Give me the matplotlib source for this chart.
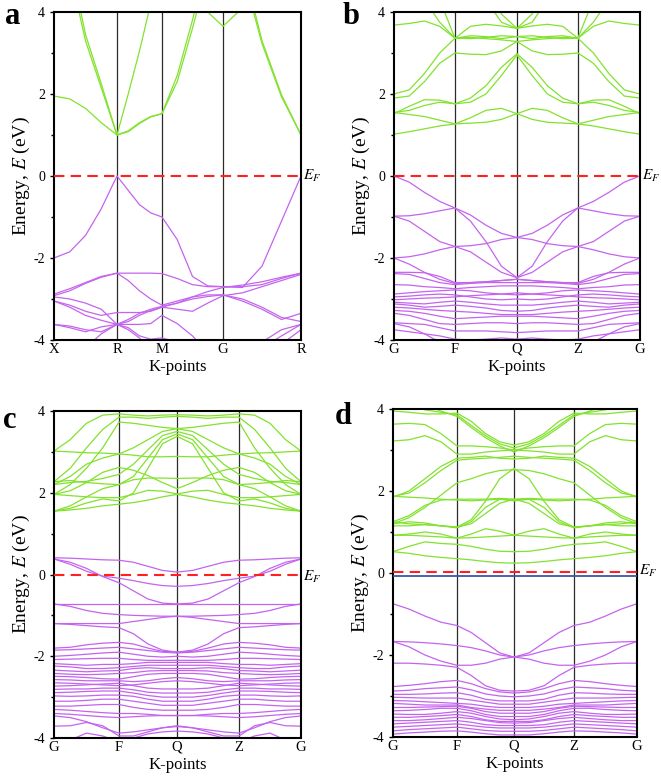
import numpy as np
import matplotlib.pyplot as plt
from matplotlib.ticker import MultipleLocator

plt.rcParams['font.family'] = ['Liberation Serif', 'DejaVu Serif']
plt.rcParams['mathtext.fontset'] = 'stix'

GREEN = '#82E22E'
PURPLE = '#C464EE'

# ---- panel a: path X-R-M-G-R, 3 samples inside each segment (17 values per band)
a_labels = ['X', 'R', 'M', 'G', 'R']
a_kpts = [0.0, 0.255, 0.437, 0.684, 1.0]
a_cond = [
    [1.95, 1.88, 1.65, 1.30, 1.00, 1.10, 1.30, 1.45, 1.52, 2.30, 3.60, 5.00, 6.0, 5.0, 3.23, 1.93, 1.00],
    [7.0, 5.0, 3.30, 2.15, 1.00, 2.00, 3.05, 4.20, 6.0, 6.5, 7.0, 7.0, 7.0, 5.2, 3.30, 1.98, 1.00],
    [7.0, 5.3, 3.45, 2.25, 1.00, 1.08, 1.28, 1.44, 1.52, 2.45, 3.80, 5.30, 7.0, 7.0, 7.0, 7.0, 7.0],
    [7.0, 7.0, 7.0, 7.0, 7.0, 7.0, 7.0, 7.0, 7.0, 6.5, 5.0, 4.00, 3.65, 4.10, 5.20, 6.5, 7.0],
]
a_val = [
    [-2.00, -1.85, -1.45, -0.80, 0.00, -0.35, -0.70, -0.90, -1.00, -1.55, -2.45, -2.68, -2.70, -2.72, -2.20, -1.10, 0.00],
    [-2.88, -2.75, -2.60, -2.45, -2.37, -2.37, -2.37, -2.37, -2.38, -2.50, -2.65, -2.70, -2.70, -2.70, -2.65, -2.50, -2.37],
    [-2.92, -2.80, -2.62, -2.47, -2.37, -2.55, -2.80, -3.00, -3.15, -3.05, -2.95, -2.90, -2.90, -3.05, -3.25, -3.50, -3.35],
    [-3.05, -3.15, -3.30, -3.40, -3.33, -3.33, -3.33, -3.30, -3.20, -3.10, -2.95, -2.82, -2.72, -2.66, -2.58, -2.47, -2.37],
    [-2.95, -3.00, -3.10, -3.25, -3.62, -3.55, -3.40, -3.28, -3.20, -3.25, -3.30, -3.10, -2.92, -2.85, -2.70, -2.55, -2.40],
    [-3.05, -3.20, -3.40, -3.52, -3.62, -3.50, -3.35, -3.25, -3.18, -3.10, -3.00, -2.94, -2.90, -3.00, -3.20, -3.45, -3.55],
    [-3.62, -3.66, -3.75, -3.80, -3.62, -3.62, -3.62, -3.60, -3.40, -3.60, -3.90, -4.30, -4.50, -4.50, -4.20, -3.90, -3.62],
    [-3.62, -3.70, -3.80, -3.68, -3.62, -3.75, -3.95, -4.30, -4.50, -4.50, -4.50, -4.50, -4.50, -4.40, -4.05, -3.75, -3.62],
    [-4.50, -4.40, -4.20, -3.85, -3.62, -3.70, -3.90, -3.98, -3.95, -4.05, -4.30, -4.50, -4.50, -4.50, -4.50, -4.10, -3.75],
]

# ---- panels b-d: path G-F-Q-Z-G, mirror-symmetric about Q
# values listed for G -> F -> Q (3 samples inside each segment, 9 values per band)
bcd_labels = ['G', 'F', 'Q', 'Z', 'G']

b_kpts = [0.0, 0.248, 0.5, 0.748, 1.0]
b_cond = [
    [1.02, 1.08, 1.15, 1.22, 1.27, 1.29, 1.31, 1.38, 1.52],
    [1.55, 1.50, 1.45, 1.36, 1.27, 1.42, 1.60, 1.65, 1.52],
    [1.52, 1.70, 1.86, 1.85, 1.76, 1.90, 2.20, 2.65, 2.98],
    [1.55, 1.60, 1.72, 1.80, 1.76, 1.80, 2.00, 2.45, 2.95],
    [1.90, 1.95, 2.30, 2.75, 3.00, 2.97, 2.96, 3.05, 3.28],
    [2.00, 2.10, 2.50, 3.00, 3.36, 3.38, 3.35, 3.32, 3.28],
    [3.68, 3.72, 3.78, 3.65, 3.36, 3.35, 3.38, 3.42, 3.40],
    [6.00, 5.50, 4.30, 3.75, 3.36, 3.65, 3.70, 3.66, 3.60],
    [6.00, 6.00, 5.20, 4.30, 3.36, 3.42, 3.40, 3.35, 3.40],
    [9.00, 9.00, 9.00, 9.00, 9.00, 6.00, 4.30, 3.75, 3.60],
    [9.00, 9.00, 9.00, 9.00, 9.00, 6.50, 4.80, 3.95, 3.60],
]
b_val = [
    [0.00, -0.15, -0.40, -0.62, -0.78, -0.95, -1.20, -1.40, -1.50],
    [-0.98, -0.97, -0.92, -0.85, -0.78, -1.10, -1.60, -2.20, -2.48],
    [-0.98, -1.10, -1.35, -1.60, -1.72, -1.70, -1.65, -1.55, -1.50],
    [-2.00, -1.97, -1.90, -1.80, -1.72, -1.85, -2.10, -2.35, -2.48],
    [-2.00, -2.15, -2.35, -2.52, -2.62, -2.60, -2.58, -2.55, -2.52],
    [-2.35, -2.35, -2.36, -2.45, -2.60, -2.60, -2.58, -2.55, -2.52],
    [-2.38, -2.40, -2.50, -2.60, -2.65, -2.62, -2.60, -2.60, -2.60],
    [-2.65, -2.66, -2.70, -2.72, -2.75, -2.72, -2.70, -2.68, -2.68],
    [-2.88, -2.85, -2.82, -2.80, -2.78, -2.80, -2.85, -2.88, -2.90],
    [-2.95, -2.93, -2.90, -2.88, -2.90, -2.95, -3.00, -3.02, -3.00],
    [-3.02, -3.00, -2.98, -2.97, -2.95, -2.92, -2.90, -2.88, -2.85],
    [-3.08, -3.10, -3.12, -3.08, -3.05, -3.08, -3.12, -3.15, -3.15],
    [-3.12, -3.15, -3.20, -3.18, -3.15, -3.18, -3.22, -3.28, -3.30],
    [-3.20, -3.22, -3.25, -3.28, -3.30, -3.32, -3.35, -3.38, -3.38],
    [-3.28, -3.30, -3.35, -3.42, -3.48, -3.46, -3.44, -3.42, -3.42],
    [-3.35, -3.40, -3.50, -3.60, -3.62, -3.60, -3.58, -3.58, -3.60],
    [-3.58, -3.60, -3.62, -3.70, -3.78, -3.78, -3.78, -3.80, -3.82],
    [-3.75, -3.80, -3.85, -3.90, -3.98, -4.00, -3.98, -3.95, -3.98],
    [-3.60, -3.68, -3.85, -4.05, -4.30, -4.40, -4.30, -4.10, -3.98],
]

c_kpts = [0.0, 0.263, 0.498, 0.749, 1.0]
c_cond = [
    [1.55, 1.58, 1.62, 1.68, 1.72, 1.76, 1.82, 1.90, 1.96],
    [1.55, 1.68, 1.90, 2.10, 2.20, 2.32, 2.36, 2.36, 2.35],
    [1.96, 1.93, 1.90, 1.88, 1.88, 1.96, 2.06, 2.04, 1.97],
    [1.96, 2.05, 2.25, 2.50, 2.62, 2.55, 2.42, 2.25, 2.10],
    [2.27, 2.30, 2.25, 2.22, 2.20, 2.40, 2.85, 3.30, 3.44],
    [2.20, 2.25, 2.28, 2.35, 2.45, 2.70, 3.05, 3.40, 3.50],
    [3.02, 3.00, 2.98, 2.97, 2.95, 3.10, 3.30, 3.50, 3.57],
    [1.55, 1.62, 1.75, 1.85, 1.80, 2.00, 2.60, 3.20, 3.38],
    [2.20, 2.40, 2.70, 2.85, 2.95, 2.92, 2.88, 2.88, 2.89],
    [1.96, 2.20, 2.60, 3.10, 3.73, 3.70, 3.65, 3.60, 3.57],
    [2.27, 2.60, 3.10, 3.55, 3.85, 3.85, 3.82, 3.85, 3.87],
    [3.02, 3.30, 3.70, 3.90, 3.93, 3.90, 3.88, 3.90, 3.91],
]
c_val = [
    [0.41, 0.40, 0.38, 0.36, 0.35, 0.30, 0.20, 0.10, 0.06],
    [0.38, 0.25, 0.08, -0.04, -0.09, -0.15, -0.22, -0.27, -0.29],
    [0.38, 0.30, 0.15, -0.05, -0.20, -0.40, -0.60, -0.70, -0.72],
    [-0.72, -0.72, -0.72, -0.72, -0.72, -0.72, -0.72, -0.72, -0.72],
    [-0.72, -0.78, -0.88, -0.95, -0.98, -1.00, -1.01, -1.02, -1.02],
    [-1.20, -1.20, -1.20, -1.20, -1.20, -1.15, -1.10, -1.05, -1.02],
    [-1.20, -1.22, -1.25, -1.28, -1.30, -1.45, -1.70, -1.85, -1.90],
    [-1.80, -1.78, -1.72, -1.68, -1.66, -1.70, -1.80, -1.88, -1.90],
    [-1.85, -1.84, -1.82, -1.80, -1.78, -1.82, -1.86, -1.90, -1.92],
    [-2.00, -1.98, -1.95, -1.92, -1.90, -1.95, -2.00, -2.02, -2.00],
    [-2.08, -2.07, -2.06, -2.05, -2.05, -2.08, -2.10, -2.10, -2.10],
    [-2.18, -2.20, -2.22, -2.20, -2.20, -2.18, -2.15, -2.15, -2.15],
    [-2.24, -2.26, -2.30, -2.30, -2.28, -2.25, -2.22, -2.22, -2.22],
    [-2.34, -2.36, -2.38, -2.36, -2.35, -2.30, -2.28, -2.30, -2.30],
    [-2.42, -2.44, -2.45, -2.44, -2.42, -2.40, -2.36, -2.35, -2.35],
    [-2.49, -2.50, -2.52, -2.55, -2.56, -2.50, -2.44, -2.42, -2.42],
    [-2.57, -2.58, -2.60, -2.60, -2.60, -2.62, -2.60, -2.55, -2.52],
    [-2.65, -2.66, -2.68, -2.70, -2.72, -2.70, -2.66, -2.62, -2.60],
    [-2.73, -2.72, -2.70, -2.68, -2.66, -2.72, -2.78, -2.80, -2.80],
    [-2.81, -2.80, -2.80, -2.78, -2.78, -2.82, -2.88, -2.90, -2.90],
    [-2.89, -2.88, -2.86, -2.85, -2.85, -2.90, -2.96, -3.00, -3.00],
    [-2.97, -2.98, -2.97, -2.95, -2.95, -2.98, -3.05, -3.10, -3.10],
    [-3.10, -3.10, -3.08, -3.05, -3.05, -3.10, -3.15, -3.20, -3.20],
    [-3.22, -3.22, -3.20, -3.18, -3.18, -3.25, -3.30, -3.32, -3.32],
    [-3.30, -3.32, -3.35, -3.38, -3.40, -3.40, -3.42, -3.45, -3.45],
    [-3.40, -3.42, -3.45, -3.48, -3.50, -3.48, -3.46, -3.45, -3.45],
    [-3.46, -3.50, -3.60, -3.75, -3.88, -3.85, -3.80, -3.75, -3.72],
    [-3.71, -3.70, -3.62, -3.70, -3.95, -3.95, -3.85, -3.75, -3.70],
    [-4.20, -4.05, -3.88, -3.95, -4.10, -4.00, -3.90, -3.85, -3.83],
]

d_kpts = [0.0, 0.262, 0.496, 0.742, 1.0]
d_cond = [
    [0.52, 0.48, 0.42, 0.38, 0.35, 0.32, 0.28, 0.25, 0.24],
    [0.52, 0.65, 0.76, 0.72, 0.70, 0.65, 0.58, 0.53, 0.52],
    [0.92, 0.92, 0.90, 0.88, 0.85, 0.86, 0.88, 0.90, 0.92],
    [0.92, 0.95, 1.00, 0.95, 0.85, 0.95, 1.08, 1.02, 0.92],
    [1.15, 1.15, 1.18, 1.15, 1.12, 1.20, 1.45, 1.70, 1.80],
    [1.20, 1.25, 1.22, 1.15, 1.10, 1.25, 1.60, 1.80, 1.76],
    [1.25, 1.40, 1.65, 1.78, 1.80, 1.80, 1.80, 1.82, 1.80],
    [1.20, 1.35, 1.60, 1.90, 2.20, 2.30, 2.42, 2.50, 2.52],
    [1.25, 1.20, 1.18, 1.15, 1.12, 1.30, 1.75, 2.30, 2.55],
    [1.87, 1.95, 2.20, 2.50, 2.75, 2.78, 2.80, 2.82, 2.85],
    [1.85, 2.00, 2.30, 2.60, 2.80, 2.82, 2.85, 2.80, 2.78],
    [1.87, 1.85, 1.83, 1.80, 1.78, 1.76, 1.78, 1.80, 1.78],
    [3.22, 3.25, 3.35, 3.20, 2.90, 2.90, 2.95, 2.98, 3.00],
    [3.63, 3.65, 3.62, 3.40, 3.10, 3.10, 3.08, 3.05, 3.00],
    [3.95, 3.92, 3.88, 3.88, 3.90, 3.70, 3.40, 3.20, 3.12],
    [4.30, 4.10, 3.98, 3.92, 3.86, 3.60, 3.35, 3.15, 3.05],
    [4.50, 4.30, 4.10, 3.95, 3.82, 3.55, 3.30, 3.10, 2.95],
]
d_val = [
    [-0.75, -0.88, -1.05, -1.20, -1.28, -1.45, -1.70, -1.95, -2.05],
    [-1.67, -1.68, -1.70, -1.73, -1.77, -1.82, -1.90, -2.00, -2.05],
    [-1.67, -1.80, -2.00, -2.15, -2.25, -2.25, -2.20, -2.10, -2.05],
    [-2.20, -2.20, -2.22, -2.25, -2.30, -2.50, -2.75, -2.86, -2.88],
    [-2.77, -2.74, -2.70, -2.65, -2.62, -2.70, -2.82, -2.90, -2.93],
    [-2.88, -2.86, -2.82, -2.80, -2.78, -2.85, -2.95, -3.00, -3.02],
    [-2.96, -2.96, -2.95, -2.93, -2.92, -2.98, -3.08, -3.12, -3.12],
    [-3.03, -3.04, -3.05, -3.05, -3.05, -3.10, -3.15, -3.20, -3.20],
    [-3.11, -3.12, -3.14, -3.16, -3.18, -3.20, -3.25, -3.28, -3.28],
    [-3.18, -3.20, -3.22, -3.22, -3.22, -3.28, -3.32, -3.35, -3.35],
    [-3.28, -3.28, -3.27, -3.26, -3.25, -3.30, -3.38, -3.42, -3.42],
    [-3.36, -3.35, -3.33, -3.30, -3.30, -3.36, -3.45, -3.50, -3.50],
    [-3.44, -3.45, -3.45, -3.42, -3.38, -3.42, -3.50, -3.56, -3.58],
    [-3.52, -3.52, -3.50, -3.48, -3.45, -3.50, -3.58, -3.62, -3.62],
    [-3.60, -3.60, -3.58, -3.55, -3.52, -3.55, -3.60, -3.65, -3.66],
    [-3.68, -3.66, -3.64, -3.62, -3.60, -3.64, -3.70, -3.72, -3.72],
    [-3.76, -3.74, -3.72, -3.70, -3.68, -3.72, -3.76, -3.78, -3.78],
    [-3.85, -3.82, -3.80, -3.78, -3.76, -3.80, -3.84, -3.86, -3.86],
    [-3.93, -3.90, -3.88, -3.86, -3.85, -3.88, -3.92, -3.95, -3.95],
]


def sample_grid(kpts, n=4):
    parts = [np.linspace(kpts[i], kpts[i + 1], n + 1)[:-1] for i in range(len(kpts) - 1)]
    return np.append(np.concatenate(parts), kpts[-1])


def setup(ax, kpts, labels, ef=0.0, ef_txt=0.0):
    ax.set_xlim(0, 1)
    ax.set_ylim(-4, 4)
    for k in kpts[1:-1]:
        ax.axvline(k, color='#2b2b2b', lw=0.9, zorder=1)
    ax.axhline(ef, color='#FF2020', lw=1.5, ls=(0, (5, 3)), zorder=4)
    ax.set_xticks(kpts)
    ax.set_xticklabels(labels, fontsize=10.5)
    ax.set_yticks([-4, -2, 0, 2, 4])
    ax.set_yticklabels(['-4', '-2', '0', '2', '4'], fontsize=10)
    ax.yaxis.set_minor_locator(MultipleLocator(1))
    ax.tick_params(axis='y', which='major', direction='out', length=3, width=1)
    ax.tick_params(axis='y', which='minor', direction='out', length=2, width=1)
    ax.tick_params(axis='x', length=0, pad=2)
    for s in ax.spines.values():
        s.set_linewidth(1.5)
    ax.set_xlabel('K-points', fontsize=12, labelpad=2)
    ax.set_ylabel('Energy, $E$ (eV)', fontsize=14, labelpad=1)
    ax.annotate('$E_F$', xy=(1.01, ef_txt), xycoords=('axes fraction', 'data'),
                fontsize=11, va='center', ha='left', annotation_clip=False)


def draw_full(ax, kpts, bands, color):
    xs = sample_grid(kpts)
    for e in bands:
        ax.plot(xs, e, color=color, lw=0.9, zorder=2)


def draw_sym(ax, kpts, bands, color):
    xl = sample_grid(kpts[:3])
    xr = sample_grid([kpts[4], kpts[3], kpts[2]])
    for e in bands:
        ax.plot(xl, e, color=color, lw=0.9, zorder=2)
        ax.plot(xr, e, color=color, lw=0.9, zorder=2)


fig = plt.figure(figsize=(6.61, 7.78), dpi=100)
ax_a = fig.add_axes([0.0817, 0.563, 0.3737, 0.4216])
ax_b = fig.add_axes([0.596, 0.563, 0.372, 0.4216])
ax_c = fig.add_axes([0.0817, 0.0514, 0.3737, 0.4203])
ax_d = fig.add_axes([0.5946, 0.0527, 0.369, 0.4216])

setup(ax_a, a_kpts, a_labels)
draw_full(ax_a, a_kpts, a_cond, GREEN)
draw_full(ax_a, a_kpts, a_val, PURPLE)

setup(ax_b, b_kpts, bcd_labels)
draw_sym(ax_b, b_kpts, b_cond, GREEN)
draw_sym(ax_b, b_kpts, b_val, PURPLE)

setup(ax_c, c_kpts, bcd_labels, ef=-0.02, ef_txt=-0.05)
draw_sym(ax_c, c_kpts, c_cond, GREEN)
draw_sym(ax_c, c_kpts, c_val, PURPLE)

setup(ax_d, d_kpts, bcd_labels, ef=0.02, ef_txt=0.05)
ax_d.axhline(-0.065, color='#3a56a8', lw=1.3, zorder=3)
draw_sym(ax_d, d_kpts, d_cond, GREEN)
draw_sym(ax_d, d_kpts, d_val, PURPLE)

for letter, x, y in [('a', 0.008, 0.998), ('b', 0.518, 0.998), ('c', 0.005, 0.478), ('d', 0.506, 0.483)]:
    fig.text(x, y, letter, fontsize=22, fontweight='bold', va='top', ha='left')

fig.savefig('out.png', dpi=100)
